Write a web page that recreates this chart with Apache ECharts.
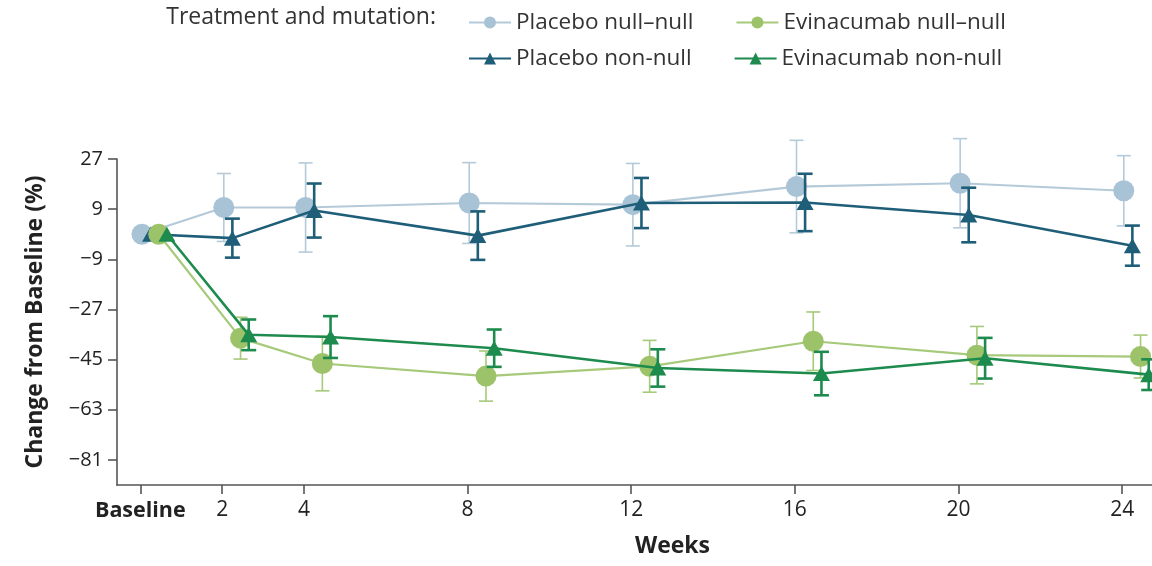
<!DOCTYPE html>
<html>
<head>
<meta charset="utf-8">
<script src="https://cdn.jsdelivr.net/npm/echarts@6/dist/echarts.min.js"></script>
<style>
html, body { margin: 0; padding: 0; background: #fff; }
#chart { width: 1152px; height: 566px; }
</style>
</head>
<body>
<div id="chart"></div>
<script>
// weeks from baseline
var weeks = [0, 2, 4, 8, 12, 16, 20, 24];
var xTicks = [0, 2, 4, 8, 12, 16, 20, 24];
var yTicks = [27, 9, -9, -27, -45, -63, -81];

// mean change (%) and half-width of error bar
var placeboNullMean = [0, 9.6, 9.6, 11.2, 10.6, 17.1, 18.3, 15.6];
var placeboNullErr = [null, 12.2, 16, 14.5, 14.8, 16.6, 16, 12.6];
var placeboNonMean = [0, -1.4, 8.5, -0.5, 11.2, 11.4, 6.9, -4.1];
var placeboNonErr = [null, 7, 9.7, 8.7, 9, 10.3, 9.8, 7.2];
var evinNullMean = [0, -37.3, -46.4, -50.9, -47.4, -38.4, -43.4, -43.9];
var evinNullErr = [null, 7.5, 9.8, 9, 9.3, 10.5, 10.3, 7.7];
var evinNonMean = [0, -36.1, -36.9, -40.9, -48, -50, -44.5, -50.4];
var evinNonErr = [null, 5.5, 7.5, 6.7, 6.7, 7.8, 7.3, 5.5];

var font = '"Open Sans", "Noto Sans", sans-serif';

var groups = [
	{ name: 'Placebo null\u2013null', mean: placeboNullMean, err: placeboNullErr, dx: 0.04,
	  color: '#a9c3d6', line: '#b5cad9', symbol: 'circle', size: 21, lw: 2.2, ew: 1.6, cap: 14, z: 2 },
	{ name: 'Placebo non-null', mean: placeboNonMean, err: placeboNonErr, dx: 0.25,
	  color: '#1e5e78', line: '#1e5e78', symbol: 'triangle', size: 16, lw: 2.6, ew: 2.6, cap: 15, z: 3 },
	{ name: 'Evinacumab null\u2013null', mean: evinNullMean, err: evinNullErr, dx: 0.45,
	  color: '#9dc36a', line: '#a6c97a', symbol: 'circle', size: 21, lw: 2.2, ew: 1.6, cap: 14, z: 4 },
	{ name: 'Evinacumab non-null', mean: evinNonMean, err: evinNonErr, dx: 0.65,
	  color: '#1d8a4e', line: '#1d8a4e', symbol: 'triangle', size: 16, lw: 2.6, ew: 2.6, cap: 15, z: 5 }
];

function errorBar(g) {
	return function (params, api) {
		var x = api.value(0);
		var top = api.coord([x, api.value(2)]);
		var bot = api.coord([x, api.value(1)]);
		var hw = g.cap / 2;
		var st = { stroke: g.line, lineWidth: g.ew };
		return {
			type: 'group',
			children: [
				{ type: 'line', shape: { x1: top[0], y1: top[1], x2: bot[0], y2: bot[1] }, style: st },
				{ type: 'line', shape: { x1: top[0] - hw, y1: top[1], x2: top[0] + hw, y2: top[1] }, style: st },
				{ type: 'line', shape: { x1: bot[0] - hw, y1: bot[1], x2: bot[0] + hw, y2: bot[1] }, style: st }
			]
		};
	};
}

var series = [];
groups.forEach(function (g) {
	var pts = [], bars = [];
	for (var i = 0; i < weeks.length; i++) {
		pts.push([weeks[i] + g.dx, g.mean[i]]);
		if (g.err[i] != null) {
			bars.push([weeks[i] + g.dx, g.mean[i] - g.err[i], g.mean[i] + g.err[i]]);
		}
	}
	series.push({
		type: 'custom',
		name: g.name + ' err',
		renderItem: errorBar(g),
		data: bars,
		z: g.z,
		silent: true
	});
	series.push({
		type: 'line',
		name: g.name,
		data: pts,
		symbol: g.symbol,
		symbolSize: g.symbol == 'triangle' ? [17, 15] : g.size,
		lineStyle: { color: g.line, width: g.lw },
		itemStyle: { color: g.color, opacity: 1 },
		z: g.z,
		animation: false
	});
});

var legendStyle = {
	itemWidth: 42,
	itemHeight: 15,
	itemGap: 42,
	textStyle: { fontFamily: font, fontSize: 22.5, color: '#333' }
};

var myChart = echarts.init(document.getElementById('chart'));
var option = {
	animation: false,
	textStyle: { fontFamily: font },
	graphic: [{
		type: 'text',
		right: 1152 - 436,
		top: 6,
		style: { text: 'Treatment and mutation:', fontFamily: font, fontSize: 23, fill: '#333' }
	}],
	legend: [
		Object.assign({ left: 463, top: 6, data: [groups[0].name, groups[2].name] }, legendStyle),
		Object.assign({ left: 463, top: 42, data: [groups[1].name, groups[3].name] }, legendStyle)
	],
	grid: { left: 117, right: 0, top: 159, bottom: 81, containLabel: false },
	xAxis: {
		type: 'value',
		min: -0.57,
		max: 24.73,
		splitLine: { show: false },
		axisLine: { onZero: false, lineStyle: { color: '#555', width: 1.6 } },
		axisTick: { customValues: xTicks, length: 9, lineStyle: { color: '#555', width: 1.6 } },
		axisLabel: {
			customValues: xTicks,
			margin: 15,
			fontSize: 21,
			color: '#222',
			fontFamily: font,
			formatter: function (v) { return v == 0 ? '{b|Baseline}' : String(v); },
			rich: { b: { fontWeight: 'bold', fontSize: 21.5, color: '#222', fontFamily: font } }
		},
		name: 'Weeks',
		nameLocation: 'middle',
		nameGap: 50,
		nameTextStyle: { fontFamily: font, fontSize: 23, fontWeight: 'bold', color: '#222', padding: [0, 0, 0, 76] }
	},
	yAxis: {
		type: 'value',
		min: -90,
		max: 27,
		splitLine: { show: false },
		axisLine: { show: true, onZero: false, lineStyle: { color: '#555', width: 1.6 } },
		axisTick: { show: true, customValues: yTicks, length: 9, lineStyle: { color: '#555', width: 1.6 } },
		axisLabel: {
			customValues: yTicks,
			margin: 14,
			fontSize: 20,
			color: '#222',
			fontFamily: font,
			formatter: function (v) { return v < 0 ? '\u2212' + Math.abs(v) : String(v); }
		},
		name: 'Change from Baseline (%)',
		nameLocation: 'middle',
		nameGap: 70,
		nameTextStyle: { fontFamily: font, fontSize: 23, fontWeight: 'bold', color: '#222' }
	},
	series: series
};
myChart.setOption(option);
</script>
</body>
</html>
